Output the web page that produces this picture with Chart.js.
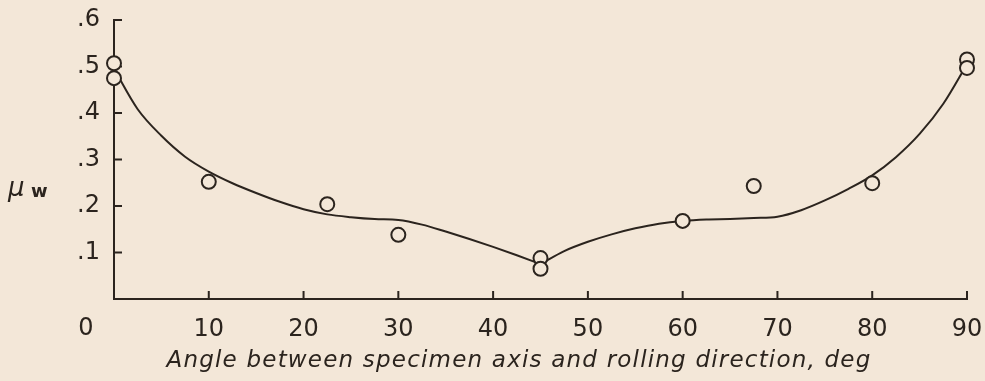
<!DOCTYPE html>
<html>
<head>
<meta charset="utf-8">
<script src="https://cdn.jsdelivr.net/npm/chart.js@4"></script>
<style>
  html, body { margin: 0; padding: 0; background: #f3e7d8; }
  canvas { display: block; }
</style>
</head>
<body>
<canvas id="muChart" width="985" height="381"></canvas>
<script>
// measured points (angle in deg, mu_w)
const sampleAngle = [0, 0, 10, 22.5, 30, 45, 45, 60, 67.5, 80, 90, 90];
const sampleMu = [0.507, 0.475, 0.252, 0.204, 0.138, 0.088, 0.065, 0.168, 0.243, 0.249, 0.515, 0.497];

// faired curve, every 2.5 deg (two branches, cusp at 45 deg)
const curveLeftAngle = [0, 2.5, 5, 7.5, 10, 12.5, 15, 17.5, 20, 22.5, 25, 27.5, 30, 32.5, 35, 37.5, 40, 42.5, 45];
const curveLeftMu = [0.495, 0.408, 0.351, 0.306, 0.274, 0.249, 0.228, 0.209, 0.193, 0.182, 0.176, 0.172, 0.17, 0.16, 0.145, 0.129, 0.112, 0.094, 0.075];
const curveRightAngle = [45, 47.5, 50, 52.5, 55, 57.5, 60, 62.5, 65, 67.5, 70, 72.5, 75, 77.5, 80, 82.5, 85, 87.5, 90];
const curveRightMu = [0.075, 0.103, 0.123, 0.139, 0.152, 0.162, 0.168, 0.171, 0.172, 0.174, 0.177, 0.191, 0.212, 0.237, 0.266, 0.305, 0.355, 0.42, 0.505];

const xTickLabels = ['0', '10', '20', '30', '40', '50', '60', '70', '80', '90'];
const yTickLabels = ['', '.1', '.2', '.3', '.4', '.5', '.6'];
const xTitle = 'Angle between specimen axis and rolling direction, deg';
const yTitle = 'μ';
const yTitleSub = 'w';

const paper = '#f3e7d8';
const ink = '#2b241e';
const fontFamily = '"DejaVu Sans", sans-serif';

function toXY(xs, ys) {
    return xs.map((x, i) => ({ x: x, y: ys[i] }));
}

// inward ticks, the offset origin label and horizontal axis titles
const axisExtras = {
    id: 'axisExtras',
    beforeDatasetsDraw(chart) {
        const ctx = chart.ctx;
        const xs = chart.scales.x;
        const ys = chart.scales.y;
        const area = chart.chartArea;
        ctx.save();
        ctx.strokeStyle = ink;
        ctx.lineWidth = 2;
        ctx.beginPath();
        for (let i = 1; i < yTickLabels.length; i++) {
            const py = ys.getPixelForValue(i / 10);
            ctx.moveTo(area.left, py);
            ctx.lineTo(area.left + 8, py);
        }
        for (let i = 1; i < xTickLabels.length; i++) {
            const px = xs.getPixelForValue(i * 10);
            ctx.moveTo(px, area.bottom);
            ctx.lineTo(px, area.bottom - 8);
        }
        ctx.stroke();
        ctx.restore();
    },
    afterDraw(chart) {
        const ctx = chart.ctx;
        const xs = chart.scales.x;
        const ys = chart.scales.y;
        ctx.save();
        ctx.fillStyle = ink;
        ctx.textBaseline = 'middle';

        // origin label sits left of the corner
        ctx.font = '24px ' + fontFamily;
        ctx.textAlign = 'center';
        ctx.fillText(xTickLabels[0], xs.getPixelForValue(0) - 28, 329);

        // y title, horizontal
        ctx.textAlign = 'left';
        ctx.font = 'italic 26px ' + fontFamily;
        const ty = ys.getPixelForValue(0.235);
        ctx.fillText(yTitle, 8, ty);
        ctx.font = 'bold 18px ' + fontFamily;
        ctx.fillText(yTitleSub, 31, ty + 3);

        // x title
        ctx.textAlign = 'center';
        ctx.font = 'italic 23px ' + fontFamily;
        ctx.letterSpacing = '1.2px';
        ctx.fillText(xTitle, 519, 361);
        ctx.restore();
    }
};

new Chart(document.getElementById('muChart').getContext('2d'), {
    type: 'scatter',
    data: {
        datasets: [{
            label: 'measured',
            data: toXY(sampleAngle, sampleMu),
            pointStyle: 'circle',
            pointRadius: 7,
            pointBorderWidth: 2,
            pointBorderColor: ink,
            pointBackgroundColor: paper,
            showLine: false,
            clip: false,
            order: 0
        }, {
            label: 'curve (0-45)',
            data: toXY(curveLeftAngle, curveLeftMu),
            showLine: true,
            borderColor: ink,
            borderWidth: 2,
            pointRadius: 0,
            cubicInterpolationMode: 'monotone',
            order: 1
        }, {
            label: 'curve (45-90)',
            data: toXY(curveRightAngle, curveRightMu),
            showLine: true,
            borderColor: ink,
            borderWidth: 2,
            pointRadius: 0,
            cubicInterpolationMode: 'monotone',
            order: 1
        }]
    },
    options: {
        responsive: false,
        animation: false,
        devicePixelRatio: 1,
        layout: {
            padding: { top: 20, right: 18, bottom: 0, left: 0 }
        },
        plugins: {
            legend: { display: false },
            tooltip: { enabled: false }
        },
        scales: {
            x: {
                type: 'linear',
                min: 0,
                max: 90,
                afterFit: s => { s.height = 82; s.paddingLeft = 0; s.paddingRight = 0; },
                border: { display: true, color: ink, width: 2 },
                grid: { display: false, drawTicks: false },
                ticks: {
                    stepSize: 10,
                    autoSkip: false,
                    maxRotation: 0,
                    padding: 16,
                    color: ink,
                    font: { family: fontFamily, size: 24 },
                    callback: (v, i) => (i === 0 ? '' : xTickLabels[i])
                }
            },
            y: {
                type: 'linear',
                min: 0,
                max: 0.6,
                afterFit: s => { s.width = 114; s.paddingTop = 0; s.paddingBottom = 0; },
                border: { display: true, color: ink, width: 2 },
                grid: { display: false, drawTicks: false },
                ticks: {
                    stepSize: 0.1,
                    autoSkip: false,
                    padding: 14,
                    color: ink,
                    font: { family: fontFamily, size: 24 },
                    callback: (v, i) => yTickLabels[i]
                }
            }
        }
    },
    plugins: [axisExtras]
});
</script>
</body>
</html>
